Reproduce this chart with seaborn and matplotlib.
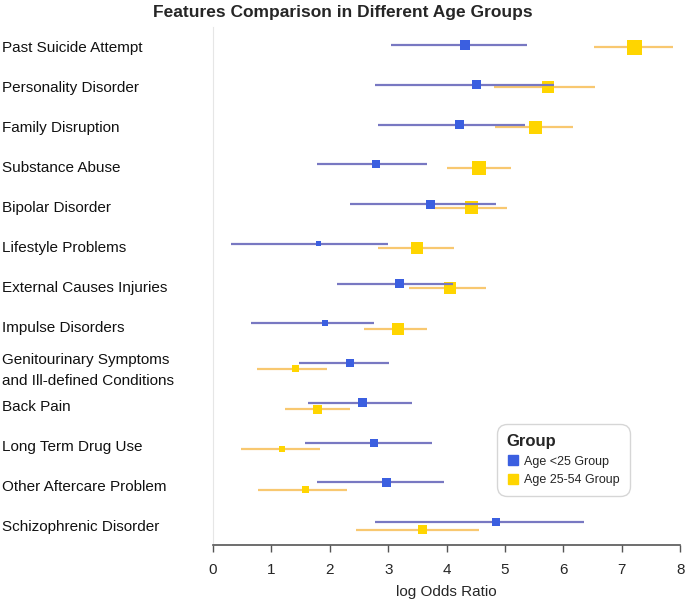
import numpy as np
import pandas as pd
import matplotlib
matplotlib.use('Agg')
import matplotlib.pyplot as plt
import seaborn as sns

features = ['Past Suicide Attempt', 'Personality Disorder', 'Family Disruption',
            'Substance Abuse', 'Bipolar Disorder', 'Lifestyle Problems',
            'External Causes Injuries', 'Impulse Disorders',
            'Genitourinary Symptoms\nand Ill-defined Conditions', 'Back Pain',
            'Long Term Drug Use', 'Other Aftercare Problem', 'Schizophrenic Disorder']
groups = ['Age <25 Group', 'Age 25-54 Group']

# log odds ratio, lower / upper bounds, relative weight (marker size)
young_est = [4.32, 4.52, 4.22, 2.79, 3.72, 1.81, 3.20, 1.91, 2.35, 2.56, 2.76, 2.97, 4.84]
young_lo = [3.04, 2.78, 2.83, 1.78, 2.34, 0.30, 2.13, 0.65, 1.48, 1.63, 1.58, 1.78, 2.77]
young_hi = [5.38, 5.84, 5.34, 3.67, 4.84, 2.99, 4.11, 2.75, 3.02, 3.40, 3.75, 3.96, 6.36]
young_w = [10, 9, 9, 8, 9, 5, 9, 6, 8, 9, 8, 9, 8]

mid_est = [7.21, 5.73, 5.52, 4.55, 4.43, 3.50, 4.05, 3.16, 1.42, 1.79, 1.18, 1.58, 3.59]
mid_lo = [6.52, 4.81, 4.82, 4.00, 3.78, 2.83, 3.36, 2.59, 0.75, 1.23, 0.48, 0.77, 2.44]
mid_hi = [7.87, 6.54, 6.16, 5.10, 5.03, 4.13, 4.68, 3.67, 1.96, 2.35, 1.83, 2.30, 4.55]
mid_w = [15, 12, 13, 14, 13, 12, 12, 12, 7, 9, 6, 7, 9]

marker_cols = {groups[0]: '#3b5fe0', groups[1]: '#ffd500'}
line_cols = {groups[0]: '#7878c2', groups[1]: '#f8c870'}
# vertical dodge between the two groups grows slightly down the chart
spread = np.linspace(0.025, 0.095, len(features))
dodge = {groups[0]: -spread, groups[1]: spread}

rows = []
for g, est, lo, hi, w in [(groups[0], young_est, young_lo, young_hi, young_w),
                          (groups[1], mid_est, mid_lo, mid_hi, mid_w)]:
    for i, f in enumerate(features):
        rows.append({'Feature': f, 'Group': g, 'est': est[i], 'lo': lo[i], 'hi': hi[i],
                     'weight': w[i], 'pos': i + dodge[g][i]})
df = pd.DataFrame(rows)
# marker area in pt^2 from the weight (side in px at 100 dpi)
df['area'] = (df['weight'] * 0.72) ** 2

sns.set_style('white')
plt.rcParams['font.family'] = ['Liberation Sans', 'DejaVu Sans']

fig = plt.figure(figsize=(6.85, 6.03), dpi=100)
ax = fig.add_axes([0.311, 0.0962, 0.682, 0.859])

for g in [groups[1], groups[0]]:
    sub = df[df['Group'] == g]
    ax.hlines(sub['pos'], sub['lo'], sub['hi'], color=line_cols[g], lw=1.6,
              zorder=2 if g == groups[1] else 4)
    sns.scatterplot(data=sub, x='est', y='pos', size='area', sizes=(df['area'].min(), df['area'].max()),
                    size_norm=(df['area'].min(), df['area'].max()), color=marker_cols[g],
                    marker='s', linewidth=0, legend=False, ax=ax,
                    zorder=3 if g == groups[1] else 5)

ax.set_xlim(0, 8)
ax.set_ylim(len(features) - 1 + 0.475, -0.475)
ax.set_xticks(range(0, 9))
ax.set_yticks(range(len(features)))
ax.set_yticklabels(features, ha='left', fontsize=11, color='#111111', linespacing=1.55)
ax.tick_params(axis='y', length=0, pad=152)
ax.tick_params(axis='x', length=5, width=1, color='#555555', direction='out',
               labelsize=11, pad=8, bottom=True)
ax.set_xlabel('log Odds Ratio', fontsize=11, labelpad=6)
ax.set_ylabel('')
for s in ['top', 'right']:
    ax.spines[s].set_visible(False)
ax.spines['left'].set_color('#e6e6e6')
ax.spines['bottom'].set_color('#555555')
ax.spines['bottom'].set_linewidth(1.2)
for lab in ax.get_yticklabels():
    if '\n' in lab.get_text():
        lab.set_y(lab.get_position()[1])
        lab.set_va('center_baseline')

handles = [plt.Line2D([], [], marker='s', ls='', color=marker_cols[g], markersize=7) for g in groups]
leg = ax.legend(handles, groups, title='Group', loc='upper right', bbox_to_anchor=(0.9, 0.24),
                frameon=True, fontsize=9, title_fontproperties={'weight': 'bold', 'size': 12},
                handletextpad=0.4, borderpad=0.6, handlelength=1.0)
leg._legend_box.align = 'left'
leg.get_frame().set_edgecolor('#cccccc')
leg.get_frame().set_boxstyle('round,pad=0.2,rounding_size=0.8')

fig.suptitle('Features Comparison in Different Age Groups', fontsize=12.5, fontweight='bold',
             x=0.5, y=0.992)
fig.savefig('out.png', dpi=100)
